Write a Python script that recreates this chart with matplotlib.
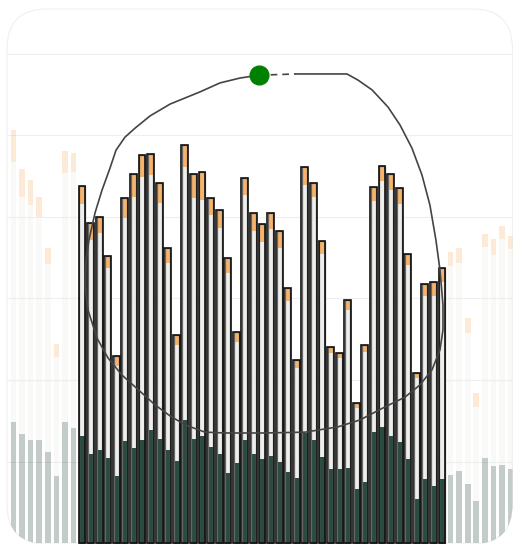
import numpy as np
import matplotlib
matplotlib.use('Agg')
import matplotlib.pyplot as plt
from matplotlib.patches import FancyBboxPatch

# stacked values per bar: bottom (green), middle (grey), top (orange)
green = [29.7, 26.7, 25.3, 25.3, 22.3, 16.4, 29.7, 28.2, 26.3, 21.8,
         22.8, 20.9, 16.4, 25.0, 23.3, 25.3, 27.7, 25.5, 22.8, 20.1,
         30.2, 25.5, 26.3, 23.6, 21.8, 17.2, 19.6, 25.3, 21.8, 20.6,
         21.3, 19.9, 17.4, 16.0, 27.0, 25.3, 21.1, 18.2, 18.2, 18.4,
         13.3, 15.0, 27.2, 28.5, 26.3, 24.8, 20.6, 10.8, 15.7, 14.0,
         15.7, 16.7, 17.7, 14.5, 10.3, 20.9, 18.9, 19.1, 18.2]
middle = [63.8, 58.2, 57.6, 54.7, 46.2, 29.2, 61.1, 62.8, 56.9, 52.6,
          53.3, 46.6, 27.0, 54.8, 61.6, 64.5, 62.6, 57.9, 45.9, 28.5,
          62.1, 59.2, 57.9, 56.9, 55.5, 49.1, 29.7, 60.1, 54.8, 53.3,
          55.8, 52.5, 42.0, 26.9, 60.9, 59.6, 49.8, 28.4, 27.2, 38.8,
          19.8, 31.9, 56.7, 60.3, 60.3, 58.4, 47.6, 29.7, 44.9, 46.6,
          48.3, 51.3, 51.0, 37.0, 23.1, 51.7, 51.8, 55.5, 53.9]
top = [7.8, 6.9, 6.2, 4.9, 3.9, 3.2, 5.4, 4.7, 4.4, 4.1,
       3.9, 2.9, 2.5, 4.9, 5.7, 5.4, 5.2, 4.9, 3.7, 2.4,
       5.4, 5.9, 6.8, 4.2, 4.4, 3.6, 2.5, 4.2, 4.4, 4.4,
       3.9, 4.2, 3.2, 2.0, 4.4, 3.4, 3.2, 1.5, 1.2, 2.4,
       1.3, 1.7, 3.5, 3.7, 4.0, 3.9, 2.7, 1.2, 3.0, 3.4,
       3.5, 3.4, 3.7, 3.7, 3.4, 3.2, 3.9, 3.2, 3.2]
sel_start, sel_end = 8, 50

# lasso path (bar index, value)
lasso_x = [32.96, 38.91, 40.19, 41.83, 43.69, 45.09, 46.49, 47.66, 48.59, 49.29,
           49.76, 50.11, 50.11, 49.76, 48.83, 47.43, 45.68, 43.35, 40.43, 37.86,
           34.01, 29.34, 24.68, 22.34, 20.01, 18.26, 16.51, 14.99, 12.66, 11.03,
           9.74, 8.69, 8.34, 8.46, 8.81, 9.51, 10.33, 11.26, 11.96, 13.01,
           14.18, 15.93, 18.26, 21.76, 24.09, 26.43, 28.64]
lasso_y = [115.1, 115.1, 113.6, 111.2, 107.0, 102.6, 96.9, 90.3, 82.9, 74.3,
           67.0, 58.4, 52.3, 47.4, 42.5, 38.8, 35.8, 33.4, 30.2, 28.5,
           27.2, 27.0, 27.0, 27.2, 29.0, 31.2, 33.9, 36.8, 41.2, 45.4,
           50.3, 57.2, 63.3, 69.4, 74.4, 81.0, 86.6, 92.0, 96.4, 99.6,
           101.8, 104.8, 107.7, 110.7, 112.9, 114.1, 114.8]

green = np.array(green)
middle = np.array(middle)
top = np.array(top)
x = np.arange(len(green))
sel = (x >= sel_start) & (x <= sel_end)

c_green = '#2a4b40'
c_mid = '#eeefeb'
c_top = '#f5b36c'

fig = plt.figure(figsize=(5.13, 5.44), dpi=100)
ax = fig.add_axes([0, 0, 1, 1])
ax.set_xlim(-1.575, 58.28)
ax.set_ylim(-0.245, 133.25)
ax.axis('off')

card = FancyBboxPatch((0.07, 0.0), 5.055, 5.35, boxstyle='round,pad=0,rounding_size=0.4',
                      transform=fig.dpi_scale_trans, facecolor='white',
                      edgecolor='#f0f0f0', linewidth=0.8, zorder=0)
ax.add_patch(card)

artists = []
for g in [20, 40, 60, 80, 100, 120]:
    artists.append(ax.axhline(g, color='#eeeeee', linewidth=0.8, zorder=1))

# faded bars outside the selection
w = 0.66
fx = x[~sel]
artists += list(ax.bar(fx, green[~sel], w, color=c_green, alpha=0.28, zorder=2))
artists += list(ax.bar(fx, middle[~sel], w, bottom=green[~sel], color=c_mid, alpha=0.35, zorder=2))
artists += list(ax.bar(fx, top[~sel], w, bottom=green[~sel] + middle[~sel], color=c_top, alpha=0.28, zorder=2))

# selected bars
w2 = 0.6
sx = x[sel]
total = green + middle + top
ax.bar(sx, green[sel], w2, color=c_green, zorder=3)
ax.bar(sx, middle[sel], w2, bottom=green[sel], color=c_mid, zorder=3)
ax.bar(sx, top[sel], w2, bottom=green[sel] + middle[sel], color=c_top, zorder=3)
ax.bar(sx, total[sel], w2, fill=False, edgecolor='#666666', linewidth=0.9, zorder=4)
ax.bar(sx, total[sel], 0.8, fill=False, edgecolor='#111111', linewidth=1.2, zorder=4)

for a in artists:
    a.set_clip_path(card)

# lasso
ax.plot(lasso_x, lasso_y, color='#444444', linewidth=1.2, zorder=6,
        solid_capstyle='round', solid_joinstyle='round')
ax.plot([lasso_x[-1], lasso_x[0]], [lasso_y[-1], lasso_y[0]], color='#444444',
        linewidth=1.2, dashes=(4, 3), zorder=6)
ax.plot(lasso_x[-1], lasso_y[-1], 'o', color='#008000', markersize=13.5, zorder=7)

fig.savefig('out.png', dpi=100)
